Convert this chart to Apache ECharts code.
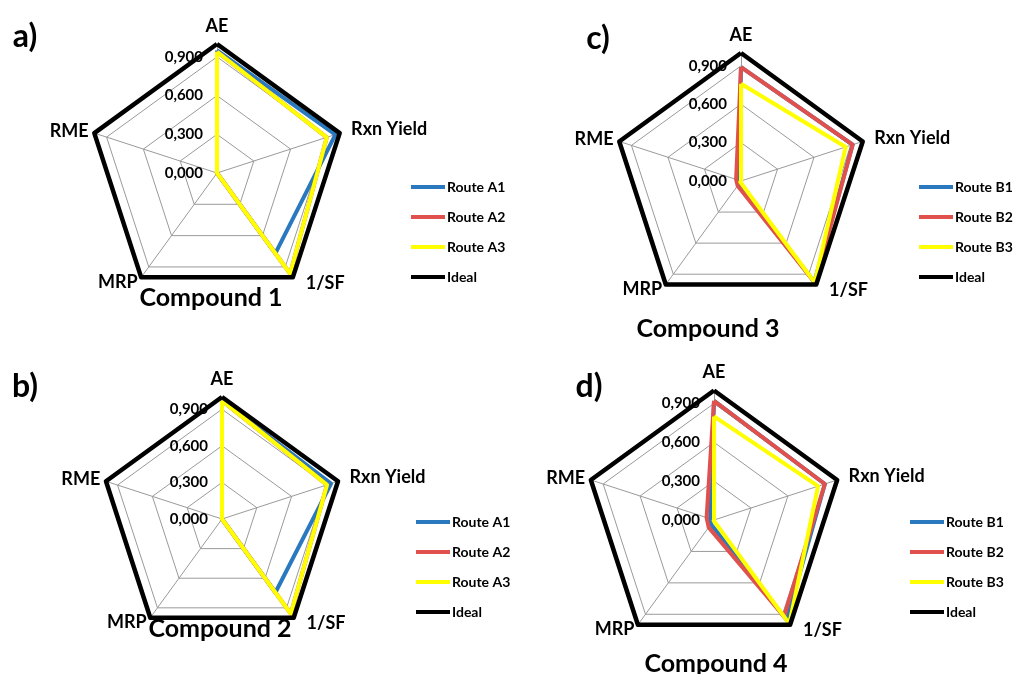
<!DOCTYPE html>
<html><head><meta charset="utf-8">
<script src="https://cdn.jsdelivr.net/npm/echarts@6/dist/echarts.min.js"></script>
<style>html,body{margin:0;padding:0;background:#fff}#c{width:1014px;height:674px}</style>
</head><body><div id="c"></div>
<script>
// Indicator order as drawn counter-clockwise from top
const indicators = ['AE', 'RME', 'MRP', '1/SF', 'Rxn Yield'];
const tickValues = [0, 0.3, 0.6, 0.9];
const routesA = ['Route A1', 'Route A2', 'Route A3', 'Ideal'];
const routesB = ['Route B1', 'Route B2', 'Route B3', 'Ideal'];
const ideal = [1, 1, 1, 1, 1];
// Compound 1
const c1A1 = [0.95, 0, 0, 0.77, 0.965];
const c1A2 = [0.94, 0, 0, 0.965, 0.895];
const c1A3 = [0.94, 0, 0, 0.965, 0.895];
// Compound 2
const c2A1 = [0.97, 0, 0, 0.745, 0.94];
const c2A2 = [0.97, 0, 0, 0.96, 0.905];
const c2A3 = [0.97, 0, 0, 0.96, 0.905];
// Compound 3
const c3B1 = [0.89, 0.02, 0.03, 0.975, 0.917];
const c3B2 = [0.89, 0.04, 0.045, 0.985, 0.917];
const c3B3 = [0.76, 0.0, 0.01, 0.98, 0.86];
// Compound 4
const c4B1 = [0.92, 0.03, 0.04, 0.955, 0.90];
const c4B2 = [0.92, 0.06, 0.07, 0.92, 0.90];
const c4B3 = [0.80, 0.0, 0.005, 0.99, 0.845];

const titles = ['Compound 1', 'Compound 2', 'Compound 3', 'Compound 4'];
const panelLetters = ['a)', 'b)', 'c)', 'd)'];

const colors = ['#2A78BE', '#E0504D', '#FFFF00', '#000000'];
const FONT = 'Lato, "Open Sans", sans-serif';

const panels = [
  { center: [217, 173], r: 129, series: [c1A1, c1A2, c1A3, ideal], names: routesA,
    legend: [406, 175], title: [206, 280], letter: [20, 16] },
  { center: [222, 519], r: 122, series: [c2A1, c2A2, c2A3, ideal], names: routesA,
    legend: [411, 510], title: [215, 611], letter: [20, 366] },
  { center: [741, 181], r: 128, series: [c3B1, c3B2, c3B3, ideal], names: routesB,
    legend: [914, 175], title: [703, 311], letter: [593, 18] },
  { center: [714, 520], r: 129.5, series: [c4B1, c4B2, c4B3, ideal], names: routesB,
    legend: [905, 510], title: [711, 646], letter: [584, 366] }
];

const nameGaps = [9, 6, 6, 7, 12];
const gridMax = tickValues[tickValues.length - 1] + (tickValues[1] - tickValues[0]);

const radar = [], series = [], legend = [], title = [];
panels.forEach((p, i) => {
  // data radar (max 1 = Ideal)
  radar.push({
    center: p.center, radius: p.r, startAngle: 90, shape: 'polygon',
    indicator: indicators.map((n, k) => ({ name: n, min: 0, max: 1, nameGap: nameGaps[k] })),
    axisName: {
      color: '#000', fontFamily: FONT, fontWeight: 'bold', fontSize: 18,
      formatter: n => (n === '1/SF' ? '  ' + n : n)
    },
    nameGap: 8,
    splitLine: { show: false }, splitArea: { show: false },
    axisLine: { show: true, lineStyle: { color: '#9a9a9a', width: 1 } },
    axisTick: { show: false }, axisLabel: { show: false }
  });
  series.push({
    type: 'radar', radarIndex: i, symbol: 'none', silent: true,
    data: p.series.map((v, s) => ({
      name: p.names[s], value: v,
      lineStyle: { color: colors[s], width: s === 3 ? 4.5 : 4 },
      itemStyle: { color: colors[s] }
    }))
  });
  legend.push({
    data: p.names, orient: 'vertical', left: p.legend[0], top: p.legend[1],
    icon: 'rect', itemWidth: 34, itemHeight: 4, itemGap: 16, selectedMode: false,
    textStyle: { color: '#000', fontFamily: FONT, fontWeight: 'bold', fontSize: 14, padding: [0, 0, 0, -3] }
  });
  title.push({
    text: titles[i], left: p.title[0], top: p.title[1], textAlign: 'center',
    textStyle: { color: '#000', fontFamily: FONT, fontWeight: 'bold', fontSize: 25 }
  });
  title.push({
    text: panelLetters[i], left: p.letter[0], top: p.letter[1], textAlign: 'center',
    textStyle: { color: '#000', fontFamily: FONT, fontWeight: 'bold', fontSize: 32 }
  });
});
// grid radars (rings + tick labels)
panels.forEach((p, i) => {
  radar.push({
    center: p.center, radius: p.r * gridMax, startAngle: 90, shape: 'polygon',
    splitNumber: tickValues.length,
    indicator: indicators.map((n, k) => k === 0
      ? { name: '', min: 0, max: gridMax, axisLabel: { show: true } }
      : { name: '', min: 0, max: gridMax }),
    axisName: { show: false },
    splitLine: { show: true, lineStyle: { color: ['#9a9a9a', '#9a9a9a', '#9a9a9a', '#9a9a9a', 'rgba(0,0,0,0)'], width: 1 } },
    splitArea: { show: false },
    axisLine: { show: false }, axisTick: { show: false },
    axisLabel: {
      show: false, color: '#000', fontFamily: FONT, fontWeight: 'bold', fontSize: 15, margin: 14,
      showMinLabel: true, showMaxLabel: true,
      formatter: v => (v > tickValues[tickValues.length - 1] + 1e-6 ? '' : v.toFixed(3).replace('.', ','))
    }
  });
});

const chart = echarts.init(document.getElementById('c'), null, { renderer: 'canvas' });
chart.setOption({ animation: false, backgroundColor: '#fff', title, legend, radar, series });
</script></body></html>
